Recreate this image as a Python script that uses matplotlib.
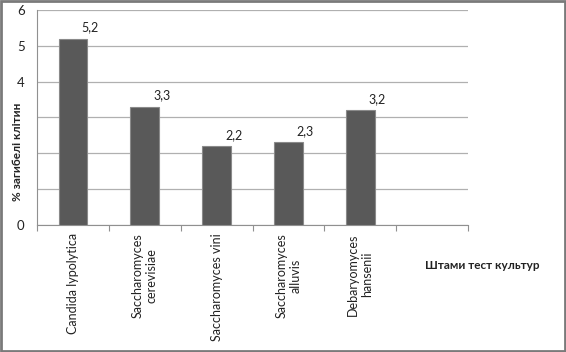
import matplotlib.pyplot as plt
import matplotlib.patches as patches

# Data
categories = ['Candida lypolytica', 'Saccharomyces\ncerevisiae', 'Saccharomyces vini',
              'Saccharomyces\nalluvis', 'Debaryomyces\nhansenii', '']
values = [5.2, 3.3, 2.2, 2.3, 3.2]
value_labels = ['5,2', '3,3', '2,2', '2,3', '3,2']
y_ticks = [0, 1, 2, 3, 4, 5, 6]
# ticks 1-3 are hidden behind the axis title in the original
y_tick_labels = ['0', '', '', '', '4', '5', '6']

plt.rcParams['font.family'] = ['Lato', 'DejaVu Sans']

fig = plt.figure(figsize=(5.66, 3.52), dpi=100, facecolor='white')
# outer frame
fig.patches.append(patches.Rectangle((0.002, 0.003), 0.996, 0.994, transform=fig.transFigure,
                                     fill=False, edgecolor='#7a7a7a', linewidth=2))

ax = fig.add_axes([0.0654, 0.361, 0.7616, 0.611])
x = list(range(len(values)))
ax.bar(x, values, width=0.4, color='#595959', edgecolor='#8a8a8a', linewidth=0.8, zorder=3)

for xi, v, lab in zip(x, values, value_labels):
    ax.annotate(lab, (xi, v), xytext=(17, 5), textcoords='offset pixels',
                ha='center', va='bottom', fontsize=9, color='#222222')

ax.set_xlim(-0.5, len(categories) - 0.5)
ax.set_ylim(0, 6)
ax.set_yticks(y_ticks)
ax.set_yticklabels(y_tick_labels, fontsize=9.5, color='#222222')
ax.grid(axis='y', color='#b0b0b0', linewidth=0.9, zorder=0)
ax.tick_params(axis='y', length=0, pad=9)

# category labels and boundary ticks
ax.set_xticks([i - 0.5 for i in range(len(categories) + 1)], minor=False)
ax.set_xticklabels([])
ax.tick_params(axis='x', length=4, color='#909090', direction='out')
ax.set_xticks(x + [5], minor=True)
ax.set_xticklabels(categories, minor=True, rotation=90, fontsize=9, color='#222222',
                   ha='center', va='top', multialignment='center')
ax.tick_params(axis='x', which='minor', length=0, pad=6)

for s in ['top', 'right']:
    ax.spines[s].set_visible(False)
ax.spines['left'].set_color('#909090')
ax.spines['bottom'].set_color('#909090')

fig.text(0.031, 0.568, '% загибелі клітин', fontsize=8.5, fontweight='bold', color='#222222',
         ha='center', va='center', rotation=90)
fig.text(0.852, 0.247, 'Штами тест культур', fontsize=8.5, fontweight='bold', color='#222222',
         ha='center', va='center')

fig.savefig('out.png', dpi=100, facecolor='white')
